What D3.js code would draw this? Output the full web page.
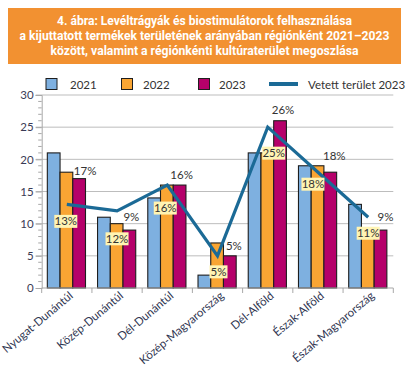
<!DOCTYPE html>
<html><head><meta charset="utf-8">
<script src="https://cdn.jsdelivr.net/npm/d3@7"></script>
<style>
html,body{margin:0;padding:0;background:#fff;}
svg{display:block;font-family:Lato,"Noto Sans",sans-serif;}
</style></head>
<body><svg id="c" width="408" height="367"></svg>
<script>
const titleLines = [
  "4. ábra: Levéltrágyák és biostimulátorok felhasználása",
  "a kijuttatott termékek területének arányában régiónként 2021–2023",
  "között, valamint a régiónkénti kultúraterület megoszlása"
];
const categories = ["Nyugat-Dunántúl","Közép-Dunántúl","Dél-Dunántúl","Közép-Magyarország","Dél-Alföld","Észak-Alföld","Észak-Magyarország"];
const years = ["2021","2022","2023"];
const values2021 = [21, 11, 14, 2, 21, 19, 13];
const values2022 = [18, 10, 16, 7, 21, 19, 9];
const values2023 = [17, 9, 16, 5, 26, 18, 9];
const areaLabel = "Vetett terület 2023";
const area2023 = [13, 12, 16, 5, 25, 18, 11];
const yTicks = [0, 5, 10, 15, 20, 25, 30];

// layout-only offsets for labels (not data)
const barLabelOff = [[6,8],[2,13],[2,10],[4,10],[3,11],[4,16],[5,13]];
const lineLabelOff = [[-1,17],[0,28],[-2,23],[1,16],[6,26],[-5,12],[0,16]];

(function(){
const svg = d3.select("#c");
const FONT = "Lato, 'Noto Sans', sans-serif";
const colors = {"2021":"#7EB0E0","2022":"#F9A533","2023":"#B5006A"};
const lineColor = "#1B6A96";

svg.append("rect").attr("x",8).attr("y",8).attr("width",393).attr("height",56).attr("fill","#F29131");
const tW = [295, 370, 308], tY = [24.5, 39.5, 55];
titleLines.forEach((t,i)=>{
  const g = svg.append("g");
  const tx = g.append("text").attr("x",0).attr("y",0).attr("text-anchor","middle")
    .attr("fill","#fff").attr("font-weight","bold").attr("font-size",13.5)
    .attr("font-family","Roboto, 'Open Sans', sans-serif").text(t);
  const nat = tx.node().getComputedTextLength();
  g.attr("transform",`translate(204.5,${tY[i]}) scale(${tW[i]/nat},1)`);
});

const pL = 41.7, pR = 393.3, pT = 95, pB = 288;
const y = d3.scaleLinear().domain([0,30]).range([pB, pT]);
const x0 = d3.scaleBand().domain(categories).range([pL,pR]).padding(0);
const bw = x0.bandwidth();
const x1 = d3.scaleBand().domain(years).range([bw*0.112, bw*0.872]).padding(0);

svg.append("g").selectAll("line").data(yTicks.filter(d=>d>0)).join("line")
  .attr("x1",pL-6).attr("x2",pR).attr("y1",d=>y(d)).attr("y2",d=>y(d))
  .attr("stroke","#BDBDBD").attr("stroke-width",1);
const yAxis = d3.axisLeft(y).tickValues(yTicks).tickSize(6).tickPadding(2);
const gy = svg.append("g").attr("transform",`translate(${pL},0)`).call(yAxis);
gy.select(".domain").attr("stroke","#A8A8A8");
gy.selectAll(".tick line").attr("stroke","#A8A8A8");
gy.selectAll(".tick text").attr("font-size",11.5).attr("fill","#3A3A55").attr("font-family",FONT);
const minor = d3.range(0,31).filter(d=>d%5!==0);
svg.append("g").selectAll("line").data(minor).join("line")
  .attr("x1",pL-3.5).attr("x2",pL).attr("y1",d=>y(d)).attr("y2",d=>y(d))
  .attr("stroke","#A8A8A8");

const series = {"2021":values2021,"2022":values2022,"2023":values2023};
const bars = svg.append("g");
categories.forEach((c,i)=>{
  years.forEach(yr=>{
    const v = series[yr][i];
    bars.append("rect").attr("x",x0(c)+x1(yr)).attr("y",y(v))
      .attr("width",x1.bandwidth()).attr("height",y(0)-y(v))
      .attr("fill",colors[yr]).attr("stroke","#1E1E1E").attr("stroke-width",1.1);
  });
});

svg.append("line").attr("x1",pL).attr("x2",pR).attr("y1",pB).attr("y2",pB).attr("stroke","#A8A8A8").attr("stroke-width",1.2);
const bounds = categories.map(c=>x0(c)).concat([pR]);
svg.append("g").selectAll("line").data(bounds).join("line")
  .attr("x1",d=>d).attr("x2",d=>d).attr("y1",pB).attr("y2",pB+5).attr("stroke","#A8A8A8");
svg.append("g").selectAll("text").data(categories).join("text")
  .attr("transform",d=>`translate(${x0(d)+bw/2+7},${pB+9}) rotate(-40)`)
  .attr("text-anchor","end").attr("font-size",11.5).attr("fill","#2E3450")
  .attr("font-family",FONT).text(d=>d);

const cx = i => x0(categories[i]) + bw/2;
const line = d3.line().x((d,i)=>cx(i)).y(d=>y(d));
svg.append("path").datum(area2023).attr("d",line).attr("fill","none")
  .attr("stroke",lineColor).attr("stroke-width",3.2).attr("stroke-linejoin","miter");

categories.forEach((c,i)=>{
  const bx = x0(c)+x1("2023")+x1.bandwidth()/2;
  svg.append("text").attr("x",bx+barLabelOff[i][0]).attr("y",y(values2023[i])-barLabelOff[i][1])
    .attr("dy","0.35em").attr("text-anchor","middle").attr("font-size",11.5).attr("fill","#333")
    .attr("font-family",FONT).text(values2023[i]+"%");
});
categories.forEach((c,i)=>{
  const lx = cx(i)+lineLabelOff[i][0], ly = y(area2023[i])+lineLabelOff[i][1];
  const txt = area2023[i]+"%";
  const w = txt.length>2 ? 23 : 18;
  svg.append("rect").attr("x",lx-w/2).attr("y",ly-6.5).attr("width",w).attr("height",13).attr("fill","#FFF4B3");
  svg.append("text").attr("x",lx).attr("y",ly).attr("dy","0.35em").attr("text-anchor","middle")
    .attr("font-size",11.5).attr("fill","#333").attr("font-family",FONT).text(txt);
});

const leg = [{k:"2021",x:46,tx:70},{k:"2022",x:121.5,tx:143},{k:"2023",x:198.5,tx:219}];
leg.forEach(l=>{
  svg.append("rect").attr("x",l.x).attr("y",78.5).attr("width",11).attr("height",11)
    .attr("fill",colors[l.k]).attr("stroke","#1E1E1E").attr("stroke-width",1);
  svg.append("text").attr("x",l.tx).attr("y",88.5).attr("font-size",11.5).attr("fill","#333")
    .attr("font-family",FONT).text(l.k);
});
svg.append("line").attr("x1",269).attr("x2",298).attr("y1",84).attr("y2",84).attr("stroke",lineColor).attr("stroke-width",4);
svg.append("text").attr("x",308).attr("y",88.5).attr("font-size",11.5).attr("fill","#333")
  .attr("font-family",FONT).text(areaLabel);
})();
</script></body></html>
